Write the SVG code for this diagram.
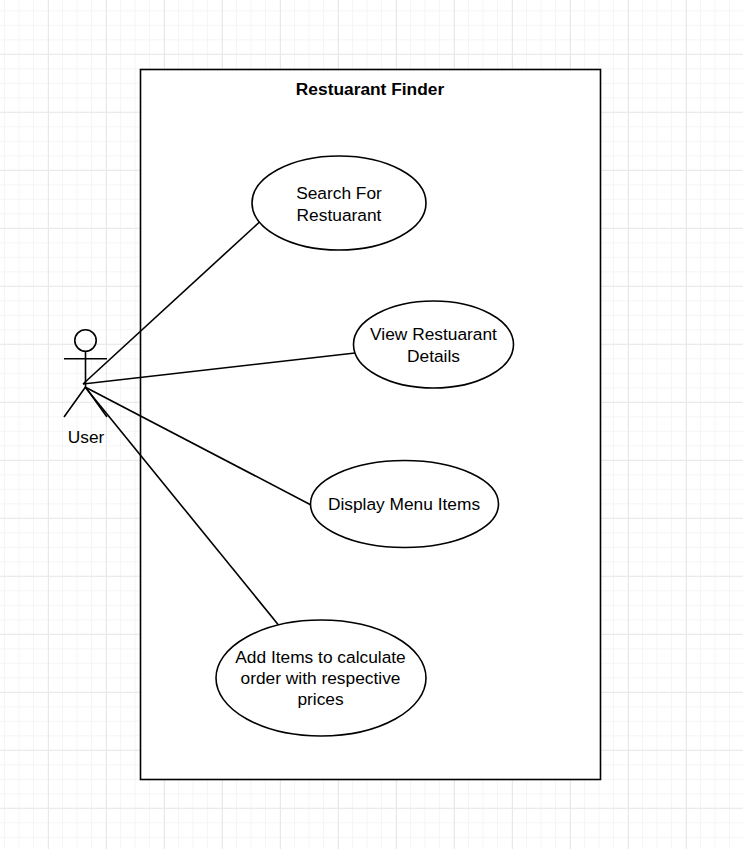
<svg xmlns="http://www.w3.org/2000/svg" width="743" height="849" viewBox="0 0 743 849">
<style>
.s{fill:#fff;stroke:#000;stroke-width:1.6}
.l{fill:none;stroke:#000;stroke-width:1.6}
text{font-family:"Liberation Sans",Arial,sans-serif;font-size:17.33px;fill:#000;text-anchor:middle}
</style>
<defs>
<pattern id="minor" width="14.5" height="14.5" patternUnits="userSpaceOnUse" x="4" y="10.3"><path d="M0.5 0V14.5M0 0.5H14.5" fill="none" stroke="#f5f5f5" stroke-width="1"/></pattern>
<pattern id="major" width="58" height="58" patternUnits="userSpaceOnUse" x="48" y="53.8"><path d="M0.5 0V58M0 0.5H58" fill="none" stroke="#e8e8e8" stroke-width="1"/></pattern>
</defs>
<g id="grid"><rect width="743" height="849" fill="#fff"/><rect width="743" height="849" fill="url(#minor)"/><rect width="743" height="849" fill="url(#major)"/></g>
<g id="system"><rect class="s" x="140.500" y="69.500" width="460" height="710"/><text x="370" y="95" font-weight="bold">Restuarant Finder</text></g>
<g id="connectors">
<line class="l" x1="83" y1="384" x2="259.500" y2="222"/>
<line class="l" x1="83" y1="384" x2="355" y2="353"/>
<line class="l" x1="85" y1="387" x2="312" y2="505.500"/>
<line class="l" x1="85" y1="387" x2="278.500" y2="625"/>
</g>
<g id="user" class="l"><circle cx="85.500" cy="340.500" r="10.700"/><path d="M64 358.700H107M85.500 352V387M85.500 387L64 417M85.500 387L107 417"/><text x="86" y="443" stroke="none">User</text></g>
<g id="search"><ellipse class="s" cx="339" cy="203" rx="87" ry="47"/><text x="339" y="199">Search For</text><text x="339" y="221">Restuarant</text></g>
<g id="view"><ellipse class="s" cx="433.500" cy="344.500" rx="80" ry="43.500"/><text x="433.500" y="340">View Restuarant</text><text x="433.500" y="362">Details</text></g>
<g id="display"><ellipse class="s" cx="404.500" cy="504" rx="94" ry="43.500"/><text x="404" y="510">Display Menu Items</text></g>
<g id="add"><ellipse class="s" cx="321" cy="678" rx="105" ry="58"/><text x="320.500" y="663">Add Items to calculate</text><text x="320.500" y="684">order with respective</text><text x="320.500" y="705">prices</text></g>
</svg>
